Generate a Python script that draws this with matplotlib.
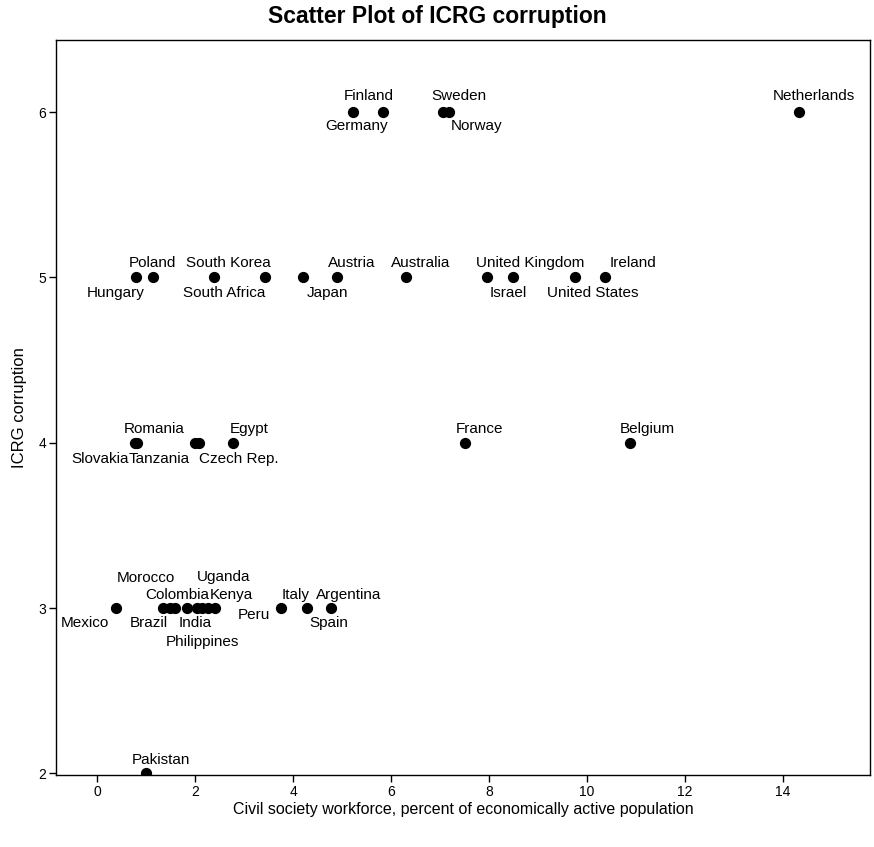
import numpy as np
import matplotlib.pyplot as plt

plt.rcParams['font.family'] = ['Liberation Sans', 'DejaVu Sans']

# civil society workforce (% of economically active population) and ICRG corruption
countries = ['Finland', 'Germany', 'Sweden', 'Norway', 'Netherlands',
             'Poland', 'Hungary', 'South Korea', 'South Africa', 'Japan', 'Austria',
             'Australia', 'Israel', 'United Kingdom', 'United States', 'Ireland',
             'Romania', 'Slovakia', 'Tanzania', 'Czech Rep.', 'Egypt', 'France', 'Belgium',
             'Mexico', 'Morocco', 'Brazil', 'Colombia', 'India', 'Philippines',
             'Uganda', 'Peru', 'Kenya', 'Italy', 'Spain', 'Argentina', 'Pakistan']
workforce = [5.22, 5.84, 7.06, 7.18, 14.33,
             0.80, 1.14, 2.39, 3.43, 4.20, 4.89,
             6.31, 7.95, 8.50, 9.76, 10.37,
             0.82, 0.78, 2.00, 2.07, 2.78, 7.51, 10.88,
             0.39, 1.35, 1.48, 1.59, 1.84, 2.03,
             2.15, 2.27, 2.41, 3.75, 4.28, 4.77, 1.00]
corruption = [6, 6, 6, 6, 6,
              5, 5, 5, 5, 5, 5,
              5, 5, 5, 5, 5,
              4, 4, 4, 4, 4, 4, 4,
              3, 3, 3, 3, 3, 3,
              3, 3, 3, 3, 3, 3, 2]

# label placement: left edge offset and vertical offset in pixels from the dot
label_dx = [-9, -58, -12, 2, -26,
            -8, -66, -28, -82, 4, -9,
            -15, 3, -37, -28, 5,
            -14, -64, -67, 0, -4, -9, -10,
            -56, -47, -40, -30, -9, -31,
            -6, 29, -5, 1, 3, -15, -14]
label_dy = [16, -14, 16, -14, 16,
            14, -16, 14, -16, -16, 14,
            14, -16, 14, -16, 14,
            14, -16, -16, -16, 14, 14, 14,
            -15, 30, -15, 13, -15, -34,
            31, -7, 13, 13, -15, 13, 13]

fig = plt.figure(figsize=(8.74, 8.47), dpi=100)
ax = fig.add_axes([0.0641, 0.085, 0.9314, 0.8678])

ax.scatter(workforce, corruption, s=50, color='black', zorder=3)
for name, x, y, dx, dy in zip(countries, workforce, corruption, label_dx, label_dy):
    ax.annotate(name, (x, y), xytext=(dx, dy), textcoords='offset pixels',
                ha='left', va='center', fontsize=11, color='black')

ax.set_xlim(-0.84, 15.78)
ax.set_ylim(1.99, 6.436)
ax.set_xticks(np.arange(0, 16, 2))
ax.set_yticks([2, 3, 4, 5, 6])
ax.tick_params(direction='out', length=5, width=1, labelsize=10, pad=2, color='black')

for sp in ax.spines.values():
    sp.set_color('black')
    sp.set_linewidth(1)

ax.set_xlabel('Civil society workforce, percent of economically active population',
              fontsize=11.5, labelpad=2)
ax.set_ylabel('ICRG corruption', fontsize=12, labelpad=8)
fig.suptitle('Scatter Plot of ICRG corruption', x=0.5, y=0.98, va='center',
             fontsize=16.5, fontweight='bold')

fig.savefig('out.png', dpi=100)
